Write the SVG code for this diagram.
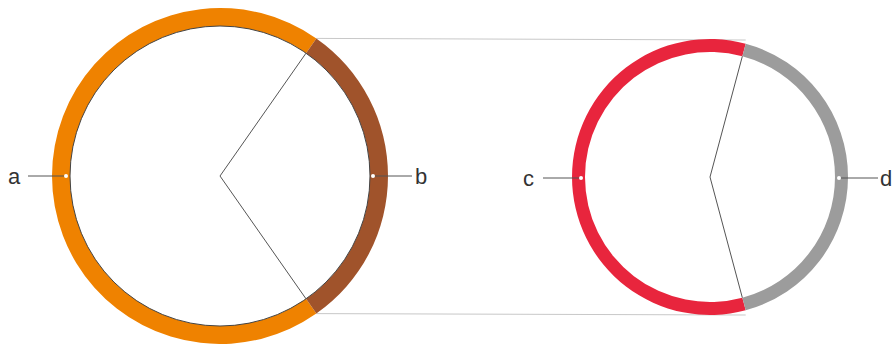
<svg xmlns="http://www.w3.org/2000/svg" width="893" height="344" viewBox="0 0 893 344">
<style>
.lbl{font-family:"Liberation Sans","DejaVu Sans",sans-serif;font-size:22px;fill:#333}
.tick{stroke:#555;stroke-width:1;fill:none}
.spoke{stroke:#555;stroke-width:1;fill:none}
.link{stroke:#c8c8c8;stroke-width:1;fill:none}
.dot{fill:#fff}
</style>
<rect width="893" height="344" fill="#fff"/>
<g id="connectors">
<line class="link" x1="316.4" y1="38.4" x2="745.7" y2="40"/>
<line class="link" x1="316.4" y1="313.6" x2="745.7" y2="315"/>
</g>
<g id="node-left">
<path d="M316.36,38.38 A168,168 0 1 0 316.36,313.62 L306.04,298.87 A150,150 0 1 1 306.04,53.13 Z" fill="#ef8200"/>
<path d="M316.36,38.38 A168,168 0 0 1 316.36,313.62 L306.04,298.87 A150,150 0 0 0 306.04,53.13 Z" fill="#a0532b"/>
<circle cx="220" cy="176" r="150" fill="none" stroke="#444" stroke-width="1"/>
<polyline class="spoke" points="306.04,53.13 220,176 306.04,298.87"/>
</g>
<g id="node-right">
<path d="M745.72,43.7 A138,138 0 1 0 745.72,310.3 L742.35,297.74 A125,125 0 1 1 742.35,56.26 Z" fill="#e8253d"/>
<path d="M745.72,43.7 A138,138 0 0 1 745.72,310.3 L742.35,297.74 A125,125 0 0 0 742.35,56.26 Z" fill="#9c9c9c"/>
<polyline class="spoke" points="742.35,56.26 710,177 742.35,297.74"/>
</g>
<g id="label-a">
<line class="tick" x1="28" y1="176" x2="66" y2="176"/>
<circle class="dot" cx="66" cy="176" r="2"/>
<text class="lbl" x="8" y="184">a</text>
</g>
<g id="label-b">
<line class="tick" x1="373" y1="176" x2="412" y2="176"/>
<circle class="dot" cx="373" cy="176" r="2"/>
<text class="lbl" x="415" y="184">b</text>
</g>
<g id="label-c">
<line class="tick" x1="543" y1="178" x2="581" y2="178"/>
<circle class="dot" cx="581" cy="178" r="2"/>
<text class="lbl" x="523" y="186">c</text>
</g>
<g id="label-d">
<line class="tick" x1="839" y1="178" x2="878" y2="178"/>
<circle class="dot" cx="839" cy="178" r="2"/>
<text class="lbl" x="880" y="186">d</text>
</g>
</svg>
